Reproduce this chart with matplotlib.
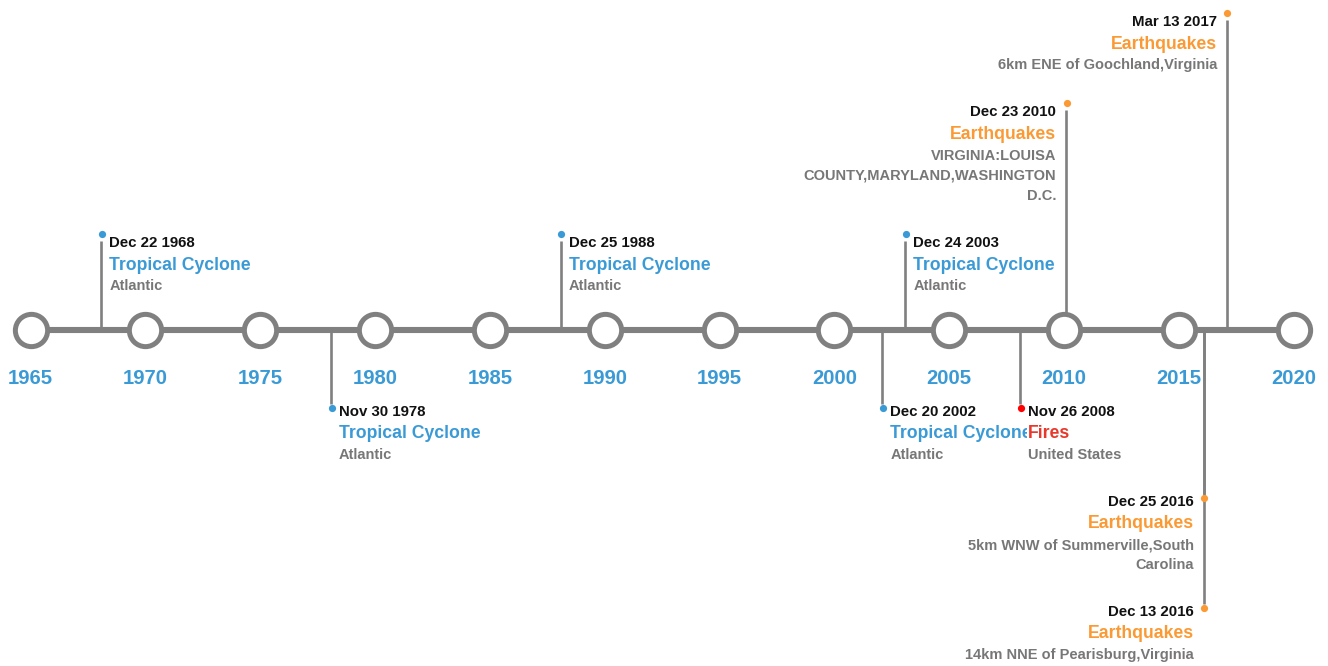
import matplotlib
matplotlib.use("Agg")
import matplotlib.pyplot as plt

# ---------------- data ----------------
tick_years = [1965, 1970, 1975, 1980, 1985, 1990, 1995, 2000, 2005, 2010, 2015, 2020]
event_dates = ["Dec 22 1968", "Nov 30 1978", "Dec 25 1988", "Dec 20 2002", "Dec 24 2003",
               "Nov 26 2008", "Dec 23 2010", "Dec 25 2016", "Dec 13 2016", "Mar 13 2017"]
event_types = ["Tropical Cyclone", "Tropical Cyclone", "Tropical Cyclone", "Tropical Cyclone",
               "Tropical Cyclone", "Fires", "Earthquakes", "Earthquakes", "Earthquakes", "Earthquakes"]
event_places = ["Atlantic", "Atlantic", "Atlantic", "Atlantic", "Atlantic", "United States",
                "VIRGINIA:LOUISA\nCOUNTY,MARYLAND,WASHINGTON\nD.C.",
                "5km WNW of Summerville,South\nCarolina",
                "14km NNE of Pearisburg,Virginia",
                "6km ENE of Goochland,Virginia"]

# ---------------- layout / style ----------------
# dot height (pixel rows, 0 = top) and label side for each event
dot_rows = [234, 408, 234, 408, 234, 408, 103, 498, 608, 13]
label_side = ["right", "right", "right", "right", "right", "right", "left", "left", "left", "left"]
type_colors = {"Tropical Cyclone": "#3a9ad6", "Fires": "#e8382b", "Earthquakes": "#fb9a34"}
dot_colors = {"Tropical Cyclone": "#3a9ad6", "Fires": "#ff0000", "Earthquakes": "#fb9a34"}

W, H = 1328, 666
AXIS_ROW = 330
X0_PX, PX_PER_YEAR = 30.5, 22.97
GRAY = "#808080"
FONT = "Liberation Sans"

fig = plt.figure(figsize=(W / 100, H / 100), dpi=100)
ax = fig.add_axes([0, 0, 1, 1])
ax.set_xlim(tick_years[0] - X0_PX / PX_PER_YEAR, tick_years[0] + (W - X0_PX) / PX_PER_YEAR)
ax.set_ylim(H, 0)
ax.axis("off")

px = 1.0 / PX_PER_YEAR  # one pixel in data units along x

# main axis line
ax.plot([tick_years[0], tick_years[-1]], [AXIS_ROW, AXIS_ROW], color=GRAY, lw=4.4,
        solid_capstyle="butt", zorder=2)
# circles
ax.scatter(tick_years, [AXIS_ROW] * len(tick_years), s=540, facecolor="white",
           edgecolor=GRAY, linewidth=3.6, zorder=4)
for y in tick_years:
    ax.text(y, 379, str(y), ha="center", va="center", fontsize=14.6, fontweight="bold",
            color="#3a9ad6", family=FONT, zorder=5)

for i, (d, t, p, row, side) in enumerate(zip(event_dates, event_types, event_places,
                                            dot_rows, label_side)):
    x = int(d.split()[-1]) + 2 * px
    above = row < AXIS_ROW
    # stem
    stem_end = row + 7 if above else row - 4
    ax.plot([x, x], [AXIS_ROW, stem_end], color=GRAY, lw=1.9, zorder=3,
            solid_capstyle="butt")
    ax.plot([x + 0.5 * px], [row], "o", ms=5.2, color=dot_colors[t], mec="none", zorder=6)

    base = row + 9 if above else row + 3.5
    if side == "right":
        tx, ha = x + 8 * px, "left"
    else:
        tx, ha = x - 10 * px, "right"
    z = 10 + i
    bb = dict(facecolor="white", edgecolor="none", pad=1.2)
    ax.text(tx, base, d, ha=ha, va="center", fontsize=10.8, fontweight="bold",
            color="#111111", family=FONT, zorder=z, bbox=bb)
    ax.text(tx, base + 22.5, t, ha=ha, va="center", fontsize=12.7, fontweight="bold",
            color=type_colors[t], family=FONT, zorder=z, bbox=bb)
    ax.text(tx, base + 36.5, p, ha=ha, va="top", fontsize=10.5, fontweight="bold",
            color="#777777", family=FONT, zorder=z, linespacing=1.58,
            multialignment=ha)

fig.savefig("out.png", dpi=100)
